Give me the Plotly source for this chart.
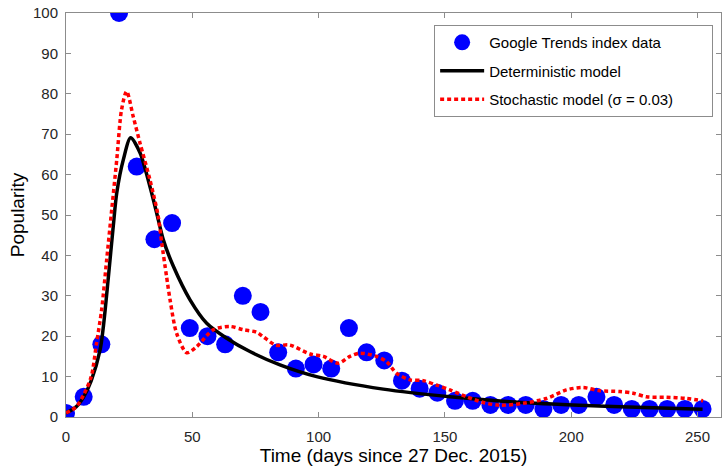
import plotly.graph_objects as go

# Google Trends data (weekly)
data_x = [0, 7, 14, 21, 28, 35, 42, 49, 56, 63, 70, 77, 84, 91, 98, 105, 112, 119, 126,
          133, 140, 147, 154, 161, 168, 175, 182, 189, 196, 203, 210, 217, 224, 231, 238, 245, 252]
data_y = [1, 5, 18, 100, 62, 44, 48, 22, 20, 18, 30, 26, 16, 12, 13, 12, 22, 16, 14,
          9, 7, 6, 4, 4, 3, 3, 3, 2, 3, 3, 5, 3, 2, 2, 2, 2, 2]

# Deterministic model
det_x = [0, 4, 7, 10, 13.5, 14.8, 16.8, 18.7, 20.1, 22.7, 25.6, 29.3, 33.2, 35.9, 38.5,
         42.5, 49.1, 55.7, 63.6, 72.8, 84.7, 99.2, 125.6, 152, 175.7, 200.6, 226, 252]
det_y = [1, 2.5, 5, 9, 16.6, 22.4, 34.8, 47.2, 55.5, 63.7, 69.1, 65.4, 57.1, 50.5, 43.9,
         37.3, 29, 23.2, 19.5, 16.2, 12.9, 10, 6.9, 5.0, 3.8, 3.0, 2.4, 1.9]

# Stochastic model
sto_x = [0, 4, 7, 10, 12.1, 14.1, 16.1, 18.1, 20.1, 22, 24, 26.6, 29.3, 33.2, 36.5, 37.9,
         39.8, 41.2, 43.8, 47.8, 51.7, 58.3, 64.9, 70.2, 75.4, 78, 83, 88.6, 96.6, 101.9,
         107.8, 112.4, 116.3, 122.9, 126.9, 130.9, 136.2, 141.4, 146.7, 152, 158.6, 165.2,
         171.7, 181, 190.2, 198.1, 204.7, 211.3, 219.2, 224.5, 229.8, 237.7, 245.6, 252.2]
sto_y = [1, 2.5, 5.5, 10, 18.3, 26.5, 38.9, 51.3, 63.7, 76.1, 80.6, 74.4, 67.8, 58.8, 49.7, 43.1,
         34.8, 29, 20.7, 15.9, 17.4, 21.6, 22.4, 21.6, 21, 19.9, 17.8, 17.8, 15.6, 15,
         13.3, 15, 15.8, 15, 13.7, 10.8, 9.2, 9.0, 7.9, 6.7, 5.0, 3.6,
         2.9, 3.4, 4.6, 6.7, 7.3, 6.5, 6.3, 5.9, 5.0, 4.9, 4.6, 4.0]

x_ticks = [0, 50, 100, 150, 200, 250]
y_ticks = [0, 10, 20, 30, 40, 50, 60, 70, 80, 90, 100]

FONT = "Arial, Liberation Sans, sans-serif"
PAD = "\u00a0" * 8

fig = go.Figure()
fig.add_trace(go.Scatter(x=data_x, y=data_y, mode="markers", name="Google Trends index data",
                         marker=dict(color="#0000ff", size=18, line=dict(width=0)),
                         legendgroup="a"))
fig.add_trace(go.Scatter(x=det_x, y=det_y, mode="lines", name="Deterministic model",
                         line=dict(color="black", width=3.5, shape="spline", smoothing=0.8),
                         legendgroup="b"))
fig.add_trace(go.Scatter(x=sto_x, y=sto_y, mode="lines", name="Stochastic model (σ = 0.03)" + PAD,
                         line=dict(color="#ff0000", width=3.5, dash="4px,3px", shape="spline", smoothing=0.8),
                         legendgroup="c"))

axis_common = dict(showgrid=False, zeroline=False, showline=True, linecolor="#8c8c8c", linewidth=1,
                   mirror="ticks", ticks="inside", ticklen=5, tickcolor="#8c8c8c",
                   automargin=False,
                   tickfont=dict(family=FONT, size=15, color="#262626"))

fig.update_layout(
    width=723, height=469,
    margin=dict(l=66, r=2, t=13, b=52),
    paper_bgcolor="white", plot_bgcolor="white",
    font=dict(family=FONT, color="#262626"),
    xaxis=dict(range=[0, 259.3], tickvals=x_ticks, ticklabelstandoff=6,
               title=dict(text="Time (days since 27 Dec. 2015)", standoff=0,
                          font=dict(size=19, family=FONT, color="#000")),
               **axis_common),
    yaxis=dict(range=[0, 100], tickvals=y_ticks, ticklabelstandoff=4,
               title=dict(text="Popularity", standoff=3,
                          font=dict(size=19, family=FONT, color="#000")),
               **axis_common),
    showlegend=True,
    legend=dict(x=0.988, y=0.97, xanchor="right", yanchor="top", bgcolor="white",
                bordercolor="#8c8c8c", borderwidth=1, font=dict(family=FONT, size=15, color="#000"),
                traceorder="grouped", tracegroupgap=6, itemwidth=44),
)

fig.write_html("out.html", config={"displayModeBar": False},
               post_script="document.body.style.margin='0';document.body.style.overflow='hidden';")
